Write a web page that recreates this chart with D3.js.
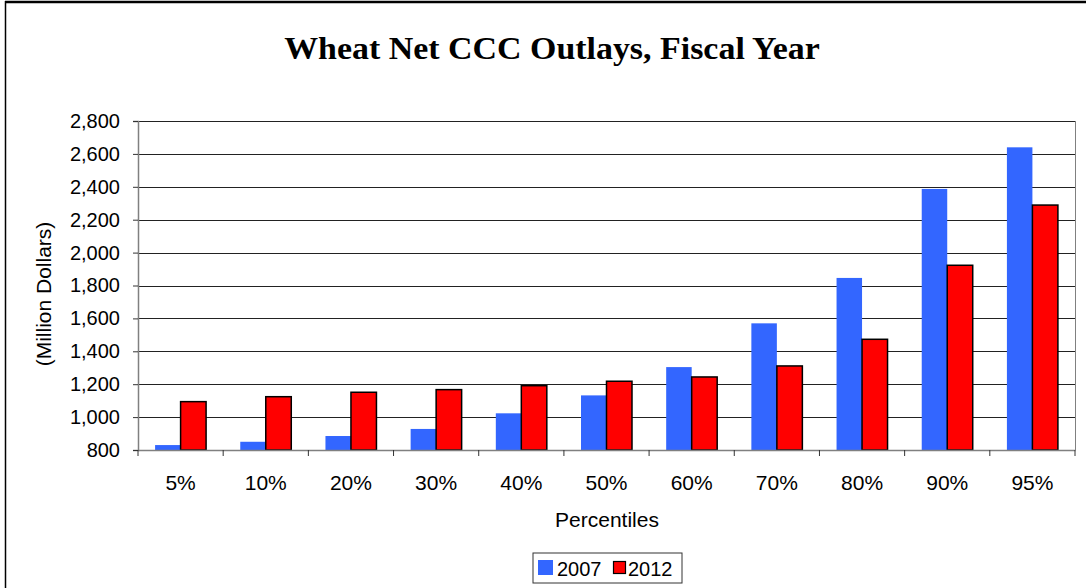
<!DOCTYPE html>
<html><head><meta charset="utf-8">
<script src="https://cdn.jsdelivr.net/npm/d3@7"></script>
<style>body{margin:0;background:#fff}svg{display:block}</style>
</head><body>
<svg id="c" width="1086" height="588"></svg>
<script>
const categories = ["5%","10%","20%","30%","40%","50%","60%","70%","80%","90%","95%"];
const values2007 = [830,850,885,928,1023,1132,1304,1570,1846,2387,2640];
const values2012 = [1094,1124,1151,1167,1191,1218,1244,1311,1473,1923,2289];
const seriesNames = ["2007","2012"];
const yTicks = [800,1000,1200,1400,1600,1800,2000,2200,2400,2600,2800];

const svg = d3.select("#c");
const L=138, R=1075, T=121, B=450;
const SANS = "Liberation Sans, Arial, sans-serif";

// outer frame (top and left)
svg.append("line").attr("x1",5).attr("x2",1086).attr("y1",2).attr("y2",2).attr("stroke","#000").attr("stroke-width",2.5);
svg.append("line").attr("x1",5.5).attr("x2",5.5).attr("y1",1).attr("y2",588).attr("stroke","#000").attr("stroke-width",1.5);

svg.append("text").attr("transform","translate(552,58.5) scale(1.06,1)").attr("text-anchor","middle")
  .attr("font-family","Liberation Serif, Times New Roman, serif").attr("font-weight","bold").attr("font-size",32)
  .text("Wheat Net CCC Outlays, Fiscal Year");

const x = d3.scaleBand().domain(categories).range([L,R]).paddingInner(0).paddingOuter(0);
const y = d3.scaleLinear().domain([800,2800]).range([B,T]);

// gridlines
svg.append("g").selectAll("line").data(yTicks.slice(1)).join("line")
  .attr("x1",L).attr("x2",R).attr("y1",d=>Math.round(y(d))+0.5).attr("y2",d=>Math.round(y(d))+0.5)
  .attr("stroke","#222").attr("stroke-width",1);
// right plot border
svg.append("line").attr("x1",R+0.5).attr("x2",R+0.5).attr("y1",T).attr("y2",B).attr("stroke","#808080");

const bw = 25.5;
const off = (x.bandwidth()-2*bw)/2;
const series = [values2007, values2012];
const colors = ["#3366FF","#FF0000"];
series.forEach((vals,si)=>{
  svg.append("g").selectAll("rect").data(vals).join("rect")
    .attr("x",(d,i)=>x(categories[i])+off+si*bw)
    .attr("y",d=>y(d))
    .attr("width",bw)
    .attr("height",d=>B-y(d))
    .attr("fill",colors[si])
    .attr("stroke",si===1?"#000":"none")
    .attr("stroke-width",si===1?1.5:0);
});

// y axis
const yAxis = svg.append("g").attr("transform",`translate(${L},0)`)
  .call(d3.axisLeft(y).tickValues(yTicks).tickSize(5).tickPadding(13).tickFormat(d3.format(",")));
yAxis.select(".domain").attr("stroke","#808080").attr("stroke-width",1.5);
yAxis.selectAll(".tick line").attr("stroke","#333");
yAxis.selectAll("text").attr("font-family",SANS).attr("font-size",20).attr("fill","#000");

// x axis
const xAxis = svg.append("g").attr("transform",`translate(0,${B})`)
  .call(d3.axisBottom(x).tickSize(0).tickPadding(25));
xAxis.select(".domain").attr("stroke","#808080").attr("stroke-width",1.5);
xAxis.selectAll("text").attr("font-family",SANS).attr("font-size",21).attr("fill","#000");
// category boundary ticks
svg.append("g").selectAll("line").data(categories.concat(["__end"])).join("line")
  .attr("x1",(d,i)=>L+i*x.bandwidth()).attr("x2",(d,i)=>L+i*x.bandwidth())
  .attr("y1",B).attr("y2",B+6).attr("stroke","#333");

svg.append("text").attr("x",607).attr("y",527).attr("text-anchor","middle")
  .attr("font-family",SANS).attr("font-size",21).text("Percentiles");
svg.append("text").attr("transform","translate(51,294) rotate(-90)").attr("text-anchor","middle")
  .attr("font-family",SANS).attr("font-size",21).text("(Million Dollars)");

// legend
const lg = svg.append("g");
lg.append("rect").attr("x",533).attr("y",553).attr("width",149).attr("height",30).attr("fill","#fff").attr("stroke","#333").attr("stroke-width",1);
const lx = [538,612];
seriesNames.forEach((n,i)=>{
  lg.append("rect").attr("x",lx[i]).attr("y",560).attr("width",i?12:15).attr("height",i?12:15)
    .attr("fill",colors[i]).attr("stroke",i?"#000":"none").attr("stroke-width",1.2)
    .attr("transform",i?"translate(1.5,1.5)":null);
  lg.append("text").attr("x",lx[i]+(i?16:19)).attr("y",576).attr("font-family",SANS).attr("font-size",20).text(n);
});
</script>
</body></html>
